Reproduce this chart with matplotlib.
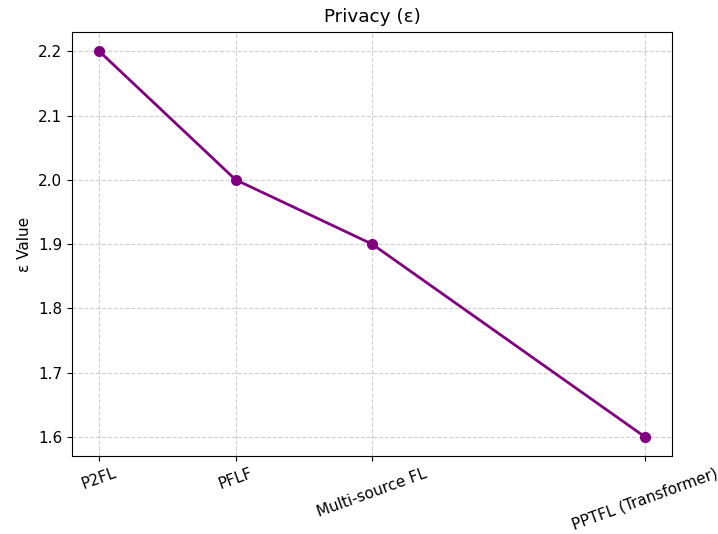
import matplotlib
matplotlib.use("Agg")
import matplotlib.pyplot as plt

methods = ["P2FL", "PFLF", "Multi-source FL", "PPTFL (Transformer)"]
positions = [0, 1, 2, 4]
epsilon = [2.2, 2.0, 1.9, 1.6]

plt.rcParams["font.size"] = 11

fig = plt.figure(figsize=(7.18, 5.34), dpi=100)
ax = fig.add_axes([0.1003, 0.146, 0.8357, 0.794])

ax.plot(positions, epsilon, marker="o", color="purple", linewidth=2, markersize=7)
ax.set_title("Privacy (ε)", pad=7.5)
ax.set_ylabel("ε Value")
ax.set_xticks(positions)
ax.set_xticklabels(methods, rotation=20)
ax.grid(True, linestyle="--", alpha=0.6)

fig.savefig("out.png", dpi=100)
